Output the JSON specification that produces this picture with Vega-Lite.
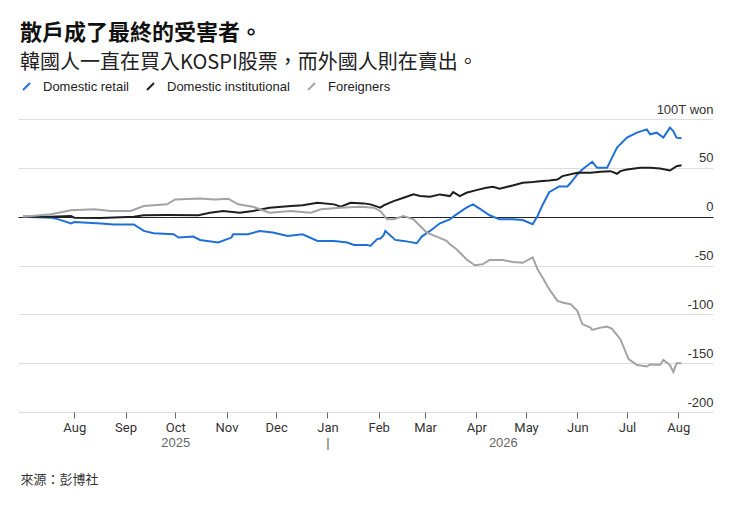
{
  "$schema": "https://vega.github.io/schema/vega-lite/v6.json",
  "description": "KOSPI cumulative net buying by investor type",
  "autosize": {"type": "none"},
  "width": 695,
  "height": 293,
  "padding": {"left": 18, "top": 119, "right": 40, "bottom": 93},
  "title": {
    "text": "散戶成了最終的受害者。",
    "subtitle": "韓國人一直在買入KOSPI股票，而外國人則在賣出。",
    "anchor": "start",
    "frame": "group",
    "dx": 2,
    "offset": 6,
    "font": "Noto Sans CJK TC",
    "fontSize": 22,
    "fontWeight": "bold",
    "color": "#111111",
    "subtitleFont": "Noto Sans CJK TC",
    "subtitleFontSize": 20,
    "subtitleColor": "#222222",
    "subtitlePadding": 8
  },
  "data": {
    "values": [
      {"date": "2025-07-01", "investor": "Domestic retail", "value": 0},
      {"date": "2025-07-18", "investor": "Domestic retail", "value": -1},
      {"date": "2025-07-23", "investor": "Domestic retail", "value": -3},
      {"date": "2025-07-30", "investor": "Domestic retail", "value": -7},
      {"date": "2025-08-01", "investor": "Domestic retail", "value": -5.5},
      {"date": "2025-08-17", "investor": "Domestic retail", "value": -7},
      {"date": "2025-08-25", "investor": "Domestic retail", "value": -8},
      {"date": "2025-09-06", "investor": "Domestic retail", "value": -8},
      {"date": "2025-09-12", "investor": "Domestic retail", "value": -14.6},
      {"date": "2025-09-18", "investor": "Domestic retail", "value": -17},
      {"date": "2025-09-30", "investor": "Domestic retail", "value": -18},
      {"date": "2025-10-03", "investor": "Domestic retail", "value": -21.4},
      {"date": "2025-10-12", "investor": "Domestic retail", "value": -20.4},
      {"date": "2025-10-16", "investor": "Domestic retail", "value": -23.8},
      {"date": "2025-10-27", "investor": "Domestic retail", "value": -26.5},
      {"date": "2025-11-04", "investor": "Domestic retail", "value": -21.4},
      {"date": "2025-11-05", "investor": "Domestic retail", "value": -18},
      {"date": "2025-11-14", "investor": "Domestic retail", "value": -18},
      {"date": "2025-11-21", "investor": "Domestic retail", "value": -14.6},
      {"date": "2025-11-29", "investor": "Domestic retail", "value": -16.3},
      {"date": "2025-12-08", "investor": "Domestic retail", "value": -19.7},
      {"date": "2025-12-17", "investor": "Domestic retail", "value": -18},
      {"date": "2025-12-26", "investor": "Domestic retail", "value": -24.8},
      {"date": "2026-01-05", "investor": "Domestic retail", "value": -24.8},
      {"date": "2026-01-13", "investor": "Domestic retail", "value": -26.5},
      {"date": "2026-01-17", "investor": "Domestic retail", "value": -28.9},
      {"date": "2026-01-25", "investor": "Domestic retail", "value": -28.9},
      {"date": "2026-01-27", "investor": "Domestic retail", "value": -30},
      {"date": "2026-01-31", "investor": "Domestic retail", "value": -23},
      {"date": "2026-02-02", "investor": "Domestic retail", "value": -22.4},
      {"date": "2026-02-04", "investor": "Domestic retail", "value": -19},
      {"date": "2026-02-05", "investor": "Domestic retail", "value": -14.6},
      {"date": "2026-02-11", "investor": "Domestic retail", "value": -23.8},
      {"date": "2026-02-16", "investor": "Domestic retail", "value": -24.8},
      {"date": "2026-02-24", "investor": "Domestic retail", "value": -27.2},
      {"date": "2026-02-27", "investor": "Domestic retail", "value": -20.4},
      {"date": "2026-03-04", "investor": "Domestic retail", "value": -14.6},
      {"date": "2026-03-10", "investor": "Domestic retail", "value": -6.8},
      {"date": "2026-03-16", "investor": "Domestic retail", "value": -2.7},
      {"date": "2026-03-20", "investor": "Domestic retail", "value": 2.4},
      {"date": "2026-03-26", "investor": "Domestic retail", "value": 9.2},
      {"date": "2026-03-30", "investor": "Domestic retail", "value": 12.6},
      {"date": "2026-04-03", "investor": "Domestic retail", "value": 8.2},
      {"date": "2026-04-09", "investor": "Domestic retail", "value": 1.4},
      {"date": "2026-04-15", "investor": "Domestic retail", "value": -2.7},
      {"date": "2026-04-23", "investor": "Domestic retail", "value": -2.7},
      {"date": "2026-04-29", "investor": "Domestic retail", "value": -3.4},
      {"date": "2026-05-05", "investor": "Domestic retail", "value": -7.8},
      {"date": "2026-05-08", "investor": "Domestic retail", "value": 0.7},
      {"date": "2026-05-11", "investor": "Domestic retail", "value": 12},
      {"date": "2026-05-15", "investor": "Domestic retail", "value": 25},
      {"date": "2026-05-21", "investor": "Domestic retail", "value": 31},
      {"date": "2026-05-26", "investor": "Domestic retail", "value": 31},
      {"date": "2026-05-28", "investor": "Domestic retail", "value": 34.7},
      {"date": "2026-06-01", "investor": "Domestic retail", "value": 43.2},
      {"date": "2026-06-04", "investor": "Domestic retail", "value": 48.3},
      {"date": "2026-06-10", "investor": "Domestic retail", "value": 56.2},
      {"date": "2026-06-13", "investor": "Domestic retail", "value": 50},
      {"date": "2026-06-19", "investor": "Domestic retail", "value": 50},
      {"date": "2026-06-22", "investor": "Domestic retail", "value": 60.5},
      {"date": "2026-06-25", "investor": "Domestic retail", "value": 70.7},
      {"date": "2026-07-01", "investor": "Domestic retail", "value": 80.9},
      {"date": "2026-07-07", "investor": "Domestic retail", "value": 86},
      {"date": "2026-07-13", "investor": "Domestic retail", "value": 89.4},
      {"date": "2026-07-15", "investor": "Domestic retail", "value": 84.3},
      {"date": "2026-07-19", "investor": "Domestic retail", "value": 86},
      {"date": "2026-07-23", "investor": "Domestic retail", "value": 80.9},
      {"date": "2026-07-27", "investor": "Domestic retail", "value": 91.2},
      {"date": "2026-07-29", "investor": "Domestic retail", "value": 87.7},
      {"date": "2026-07-31", "investor": "Domestic retail", "value": 80.9},
      {"date": "2026-08-03", "investor": "Domestic retail", "value": 80.2},

      {"date": "2025-07-01", "investor": "Domestic institutional", "value": 0},
      {"date": "2025-07-18", "investor": "Domestic institutional", "value": 0},
      {"date": "2025-07-30", "investor": "Domestic institutional", "value": 0.7},
      {"date": "2025-08-01", "investor": "Domestic institutional", "value": -1},
      {"date": "2025-08-17", "investor": "Domestic institutional", "value": -1.4},
      {"date": "2025-09-06", "investor": "Domestic institutional", "value": 0},
      {"date": "2025-09-12", "investor": "Domestic institutional", "value": 1.4},
      {"date": "2025-09-26", "investor": "Domestic institutional", "value": 1.7},
      {"date": "2025-10-15", "investor": "Domestic institutional", "value": 1.4},
      {"date": "2025-10-22", "investor": "Domestic institutional", "value": 4},
      {"date": "2025-10-30", "investor": "Domestic institutional", "value": 5.8},
      {"date": "2025-11-09", "investor": "Domestic institutional", "value": 4},
      {"date": "2025-11-17", "investor": "Domestic institutional", "value": 5.8},
      {"date": "2025-11-27", "investor": "Domestic institutional", "value": 9.2},
      {"date": "2025-12-10", "investor": "Domestic institutional", "value": 10.9},
      {"date": "2025-12-17", "investor": "Domestic institutional", "value": 11.6},
      {"date": "2025-12-26", "investor": "Domestic institutional", "value": 14.3},
      {"date": "2026-01-05", "investor": "Domestic institutional", "value": 12.6},
      {"date": "2026-01-09", "investor": "Domestic institutional", "value": 10.2},
      {"date": "2026-01-15", "investor": "Domestic institutional", "value": 14.3},
      {"date": "2026-01-23", "investor": "Domestic institutional", "value": 13.6},
      {"date": "2026-01-27", "investor": "Domestic institutional", "value": 12.6},
      {"date": "2026-02-02", "investor": "Domestic institutional", "value": 9.2},
      {"date": "2026-02-04", "investor": "Domestic institutional", "value": 11.6},
      {"date": "2026-02-10", "investor": "Domestic institutional", "value": 15.9},
      {"date": "2026-02-16", "investor": "Domestic institutional", "value": 19.4},
      {"date": "2026-02-22", "investor": "Domestic institutional", "value": 22.8},
      {"date": "2026-02-26", "investor": "Domestic institutional", "value": 21.1},
      {"date": "2026-03-04", "investor": "Domestic institutional", "value": 20.4},
      {"date": "2026-03-10", "investor": "Domestic institutional", "value": 22.8},
      {"date": "2026-03-16", "investor": "Domestic institutional", "value": 21.1},
      {"date": "2026-03-18", "investor": "Domestic institutional", "value": 25.2},
      {"date": "2026-03-22", "investor": "Domestic institutional", "value": 21.1},
      {"date": "2026-03-26", "investor": "Domestic institutional", "value": 24.5},
      {"date": "2026-04-01", "investor": "Domestic institutional", "value": 27.2},
      {"date": "2026-04-07", "investor": "Domestic institutional", "value": 29.6},
      {"date": "2026-04-11", "investor": "Domestic institutional", "value": 30.6},
      {"date": "2026-04-15", "investor": "Domestic institutional", "value": 28.6},
      {"date": "2026-04-23", "investor": "Domestic institutional", "value": 32},
      {"date": "2026-04-29", "investor": "Domestic institutional", "value": 34.7},
      {"date": "2026-05-05", "investor": "Domestic institutional", "value": 35.4},
      {"date": "2026-05-11", "investor": "Domestic institutional", "value": 36.4},
      {"date": "2026-05-15", "investor": "Domestic institutional", "value": 37},
      {"date": "2026-05-20", "investor": "Domestic institutional", "value": 38},
      {"date": "2026-05-23", "investor": "Domestic institutional", "value": 41.5},
      {"date": "2026-06-01", "investor": "Domestic institutional", "value": 45},
      {"date": "2026-06-09", "investor": "Domestic institutional", "value": 45},
      {"date": "2026-06-15", "investor": "Domestic institutional", "value": 46},
      {"date": "2026-06-21", "investor": "Domestic institutional", "value": 46.6},
      {"date": "2026-06-25", "investor": "Domestic institutional", "value": 43.9},
      {"date": "2026-06-27", "investor": "Domestic institutional", "value": 46.6},
      {"date": "2026-07-01", "investor": "Domestic institutional", "value": 48.3},
      {"date": "2026-07-09", "investor": "Domestic institutional", "value": 50},
      {"date": "2026-07-15", "investor": "Domestic institutional", "value": 50},
      {"date": "2026-07-21", "investor": "Domestic institutional", "value": 49.3},
      {"date": "2026-07-27", "investor": "Domestic institutional", "value": 47.3},
      {"date": "2026-07-31", "investor": "Domestic institutional", "value": 51.7},
      {"date": "2026-08-03", "investor": "Domestic institutional", "value": 52.7},

      {"date": "2025-07-01", "investor": "Foreigners", "value": 0},
      {"date": "2025-07-18", "investor": "Foreigners", "value": 2.4},
      {"date": "2025-07-30", "investor": "Foreigners", "value": 6.5},
      {"date": "2025-08-13", "investor": "Foreigners", "value": 7.5},
      {"date": "2025-08-23", "investor": "Foreigners", "value": 5.8},
      {"date": "2025-09-04", "investor": "Foreigners", "value": 5.8},
      {"date": "2025-09-12", "investor": "Foreigners", "value": 10.9},
      {"date": "2025-09-26", "investor": "Foreigners", "value": 12.6},
      {"date": "2025-10-01", "investor": "Foreigners", "value": 17.7},
      {"date": "2025-10-16", "investor": "Foreigners", "value": 18.7},
      {"date": "2025-10-25", "investor": "Foreigners", "value": 17.7},
      {"date": "2025-11-02", "investor": "Foreigners", "value": 18.4},
      {"date": "2025-11-08", "investor": "Foreigners", "value": 12.6},
      {"date": "2025-11-17", "investor": "Foreigners", "value": 10.2},
      {"date": "2025-11-27", "investor": "Foreigners", "value": 4},
      {"date": "2025-12-10", "investor": "Foreigners", "value": 5.8},
      {"date": "2025-12-22", "investor": "Foreigners", "value": 4},
      {"date": "2025-12-28", "investor": "Foreigners", "value": 7.5},
      {"date": "2026-01-09", "investor": "Foreigners", "value": 9.2},
      {"date": "2026-01-21", "investor": "Foreigners", "value": 10.2},
      {"date": "2026-01-29", "investor": "Foreigners", "value": 9.2},
      {"date": "2026-02-02", "investor": "Foreigners", "value": 5.8},
      {"date": "2026-02-06", "investor": "Foreigners", "value": -2.7},
      {"date": "2026-02-10", "investor": "Foreigners", "value": -2.7},
      {"date": "2026-02-16", "investor": "Foreigners", "value": 0.7},
      {"date": "2026-02-22", "investor": "Foreigners", "value": -2.7},
      {"date": "2026-02-26", "investor": "Foreigners", "value": -9.6},
      {"date": "2026-03-02", "investor": "Foreigners", "value": -16.3},
      {"date": "2026-03-08", "investor": "Foreigners", "value": -20.4},
      {"date": "2026-03-14", "investor": "Foreigners", "value": -24.8},
      {"date": "2026-03-16", "investor": "Foreigners", "value": -28.2},
      {"date": "2026-03-20", "investor": "Foreigners", "value": -33.4},
      {"date": "2026-03-26", "investor": "Foreigners", "value": -43.6},
      {"date": "2026-03-31", "investor": "Foreigners", "value": -49.7},
      {"date": "2026-04-05", "investor": "Foreigners", "value": -48.6},
      {"date": "2026-04-09", "investor": "Foreigners", "value": -44.3},
      {"date": "2026-04-17", "investor": "Foreigners", "value": -44.3},
      {"date": "2026-04-23", "investor": "Foreigners", "value": -46.4},
      {"date": "2026-04-29", "investor": "Foreigners", "value": -47.2},
      {"date": "2026-05-05", "investor": "Foreigners", "value": -41.6},
      {"date": "2026-05-08", "investor": "Foreigners", "value": -53.8},
      {"date": "2026-05-11", "investor": "Foreigners", "value": -62.3},
      {"date": "2026-05-15", "investor": "Foreigners", "value": -74.2},
      {"date": "2026-05-20", "investor": "Foreigners", "value": -86.2},
      {"date": "2026-05-23", "investor": "Foreigners", "value": -87.9},
      {"date": "2026-05-28", "investor": "Foreigners", "value": -89.6},
      {"date": "2026-06-01", "investor": "Foreigners", "value": -96.4},
      {"date": "2026-06-04", "investor": "Foreigners", "value": -110},
      {"date": "2026-06-09", "investor": "Foreigners", "value": -113.6},
      {"date": "2026-06-10", "investor": "Foreigners", "value": -116},
      {"date": "2026-06-15", "investor": "Foreigners", "value": -113.6},
      {"date": "2026-06-19", "investor": "Foreigners", "value": -112.6},
      {"date": "2026-06-22", "investor": "Foreigners", "value": -114.8},
      {"date": "2026-06-27", "investor": "Foreigners", "value": -125.5},
      {"date": "2026-07-02", "investor": "Foreigners", "value": -145.8},
      {"date": "2026-07-07", "investor": "Foreigners", "value": -151.9},
      {"date": "2026-07-13", "investor": "Foreigners", "value": -153.3},
      {"date": "2026-07-15", "investor": "Foreigners", "value": -151.3},
      {"date": "2026-07-21", "investor": "Foreigners", "value": -151.6},
      {"date": "2026-07-23", "investor": "Foreigners", "value": -146.6},
      {"date": "2026-07-27", "investor": "Foreigners", "value": -151.9},
      {"date": "2026-07-29", "investor": "Foreigners", "value": -159},
      {"date": "2026-07-31", "investor": "Foreigners", "value": -150.2},
      {"date": "2026-08-03", "investor": "Foreigners", "value": -150.2}
    ]
  },
  "layer": [
    {
      "mark": {"type": "line", "strokeWidth": 2},
      "encoding": {
        "x": {
          "field": "date",
          "type": "temporal",
          "scale": {
            "type": "utc",
            "domain": [
              {"year": 2025, "month": 6, "date": 28, "utc": true},
              {"year": 2026, "month": 8, "date": 22, "utc": true}
            ]
          },
          "axis": {
            "orient": "bottom",
            "values": [
              {"year": 2025, "month": 8, "date": 1, "utc": true},
              {"year": 2025, "month": 9, "date": 1, "utc": true},
              {"year": 2025, "month": 10, "date": 1, "utc": true},
              {"year": 2025, "month": 11, "date": 1, "utc": true},
              {"year": 2025, "month": 12, "date": 1, "utc": true},
              {"year": 2026, "month": 1, "date": 1, "utc": true},
              {"year": 2026, "month": 2, "date": 1, "utc": true},
              {"year": 2026, "month": 3, "date": 1, "utc": true},
              {"year": 2026, "month": 4, "date": 1, "utc": true},
              {"year": 2026, "month": 5, "date": 1, "utc": true},
              {"year": 2026, "month": 6, "date": 1, "utc": true},
              {"year": 2026, "month": 7, "date": 1, "utc": true},
              {"year": 2026, "month": 8, "date": 1, "utc": true}
            ],
            "labelExpr": "utcFormat(datum.value, '%b')",
            "labelOverlap": false,
            "grid": false,
            "domain": false,
            "ticks": true,
            "tickSize": 6,
            "tickWidth": 1,
            "tickColor": "#666666",
            "labelPadding": 3,
            "labelFont": "Liberation Sans Narrow, Roboto, sans-serif",
            "labelFontSize": 13,
            "labelColor": "#333333",
            "labelFlush": false,
            "title": "來源：彭博社",
            "titleFont": "Noto Sans CJK TC",
            "titleFontSize": 13,
            "titleFontWeight": "normal",
            "titleColor": "#333333",
            "titleAnchor": "start",
            "titleAlign": "left",
            "titleBaseline": "middle",
            "titleX": 2,
            "titleY": 67
          }
        },
        "y": {
          "field": "value",
          "type": "quantitative",
          "scale": {"domain": [-200, 100], "nice": false, "zero": false},
          "axis": {
            "orient": "right",
            "values": [-200, -150, -100, -50, 0, 50, 100],
            "title": null,
            "domain": false,
            "ticks": false,
            "tickSize": 0,
            "grid": true,
            "gridColor": {"condition": {"test": "datum.value === 0", "value": "#222222"}, "value": "#dddddd"},
            "gridWidth": 1,
            "labelAlign": "right",
            "labelBaseline": "bottom",
            "labelPadding": 0,
            "labelOffset": -3,
            "labelFont": "Liberation Sans, Arial, sans-serif",
            "labelFontSize": 13,
            "labelColor": "#333333",
            "labelExpr": "datum.value === 100 ? '100T won' : toString(datum.value)"
          }
        },
        "color": {
          "field": "investor",
          "type": "nominal",
          "scale": {
            "domain": ["Domestic retail", "Domestic institutional", "Foreigners"],
            "range": ["#1f6fd8", "#1e1e1e", "#a3a3a3"]
          },
          "legend": {
            "title": null,
            "orient": "none",
            "legendX": 2,
            "legendY": -39,
            "direction": "horizontal",
            "padding": 0,
            "symbolType": "M-1,1L1,-1",
            "symbolSize": 49,
            "symbolStrokeWidth": 2,
            "labelOffset": 10,
            "columnPadding": 14,
            "labelFont": "Liberation Sans, Arial, sans-serif",
            "labelFontSize": 13,
            "labelColor": "#222222"
          }
        },
        "order": {"field": "date", "type": "temporal"}
      }
    },
    {
      "mark": {"type": "point", "opacity": 0},
      "encoding": {
        "x": {
          "field": "date",
          "type": "temporal",
          "axis": {
            "orient": "bottom",
            "values": [
              {"year": 2025, "month": 10, "date": 1, "utc": true},
              {"year": 2026, "month": 1, "date": 1, "utc": true},
              {"year": 2026, "month": 4, "date": 17, "utc": true}
            ],
            "labelExpr": "utcmonth(datum.value) === 0 ? '|' : utcFormat(datum.value, '%Y')",
            "labelOverlap": false,
            "grid": false,
            "domain": false,
            "ticks": false,
            "tickSize": 0,
            "labelPadding": 24,
            "labelBaseline": "top",
            "labelFont": "Liberation Sans, Arial, sans-serif",
            "labelFontSize": 13,
            "labelColor": "#666666",
            "labelFlush": false,
            "title": null
          }
        }
      }
    }
  ],
  "resolve": {"axis": {"x": "independent"}},
  "config": {
    "view": {"stroke": null},
    "background": "#ffffff"
  }
}
